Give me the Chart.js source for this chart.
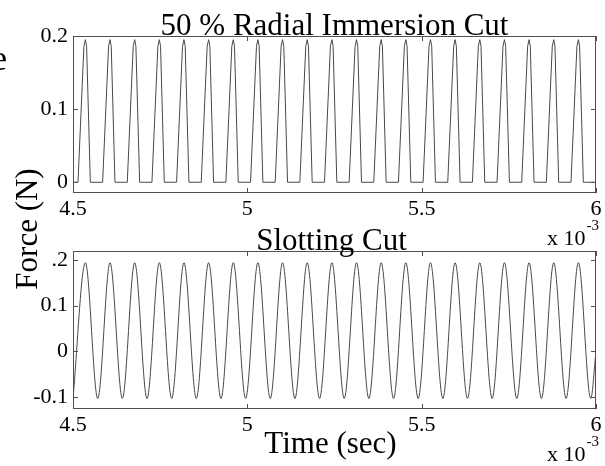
<!DOCTYPE html>
<html>
<head>
<meta charset="utf-8">
<title>Cutting force</title>
<script src="https://cdn.jsdelivr.net/npm/chart.js@4"></script>
<style>
  html, body { margin: 0; padding: 0; background: #fff; }
  #wrap { position: relative; width: 605px; height: 466px; overflow: hidden; }
  #wrap canvas { position: absolute; left: 0; top: 0; }
</style>
</head>
<body>
<div id="wrap">
  <canvas id="radialChart" width="605" height="466"></canvas>
  <canvas id="slotChart" width="605" height="466"></canvas>
</div>
<script>
// Time is in milliseconds (the axis carries the "x 10^-3" sec multiplier), force in N.
const xTickValues = [4.5, 5, 5.5, 6];
const xTickLabels = ['4.5', '5', '5.5', '6'];

const radialTickValues = [0, 0.1, 0.2];
const radialTickLabels = ['0', '0.1', '0.2'];
const slotTickValues = [-0.1, 0, 0.1, 0.2];
const slotTickLabels = ['-0.1', '0', '0.1', '0.2'];

// 50 % radial immersion: one force pulse per tooth pass (start, rise, peak, fall, end)
const radialTime = [
  4.5000,
  4.5143, 4.5313, 4.5355, 4.5390, 4.5497,
  4.5850, 4.6020, 4.6062, 4.6097, 4.6204,
  4.6557, 4.6727, 4.6769, 4.6804, 4.6911,
  4.7264, 4.7434, 4.7476, 4.7511, 4.7618,
  4.7971, 4.8141, 4.8183, 4.8218, 4.8325,
  4.8678, 4.8848, 4.8890, 4.8925, 4.9032,
  4.9385, 4.9555, 4.9597, 4.9632, 4.9739,
  5.0092, 5.0262, 5.0304, 5.0339, 5.0446,
  5.0799, 5.0969, 5.1011, 5.1046, 5.1153,
  5.1506, 5.1676, 5.1718, 5.1753, 5.1860,
  5.2213, 5.2383, 5.2425, 5.2460, 5.2567,
  5.2920, 5.3090, 5.3132, 5.3167, 5.3274,
  5.3627, 5.3797, 5.3839, 5.3874, 5.3981,
  5.4334, 5.4504, 5.4546, 5.4581, 5.4688,
  5.5041, 5.5211, 5.5253, 5.5288, 5.5395,
  5.5748, 5.5918, 5.5960, 5.5995, 5.6102,
  5.6455, 5.6625, 5.6667, 5.6702, 5.6809,
  5.7162, 5.7332, 5.7374, 5.7409, 5.7516,
  5.7869, 5.8039, 5.8081, 5.8116, 5.8223,
  5.8576, 5.8746, 5.8788, 5.8823, 5.8930,
  5.9283, 5.9453, 5.9495, 5.9530, 5.9637,
  6.0000
];
const radialForce = [
  0,
  0, 0.186, 0.195, 0.186, 0,
  0, 0.186, 0.195, 0.186, 0,
  0, 0.186, 0.195, 0.186, 0,
  0, 0.186, 0.195, 0.186, 0,
  0, 0.186, 0.195, 0.186, 0,
  0, 0.186, 0.195, 0.186, 0,
  0, 0.186, 0.195, 0.186, 0,
  0, 0.186, 0.195, 0.186, 0,
  0, 0.186, 0.195, 0.186, 0,
  0, 0.186, 0.195, 0.186, 0,
  0, 0.186, 0.195, 0.186, 0,
  0, 0.186, 0.195, 0.186, 0,
  0, 0.186, 0.195, 0.186, 0,
  0, 0.186, 0.195, 0.186, 0,
  0, 0.186, 0.195, 0.186, 0,
  0, 0.186, 0.195, 0.186, 0,
  0, 0.186, 0.195, 0.186, 0,
  0, 0.186, 0.195, 0.186, 0,
  0, 0.186, 0.195, 0.186, 0,
  0, 0.186, 0.195, 0.186, 0,
  0, 0.186, 0.195, 0.186, 0,
  0
];

// Slotting: peaks and troughs of the oscillating force, smoothed by the line's monotone cubic
const slotTime = [
  4.5000,
  4.5355, 4.5709, 4.6062, 4.6416, 4.6769, 4.7123, 4.7476, 4.7830,
  4.8183, 4.8537, 4.8890, 4.9244, 4.9597, 4.9951, 5.0304, 5.0658,
  5.1011, 5.1365, 5.1718, 5.2072, 5.2425, 5.2779, 5.3132, 5.3486,
  5.3839, 5.4193, 5.4546, 5.4900, 5.5253, 5.5607, 5.5960, 5.6314,
  5.6667, 5.7021, 5.7374, 5.7728, 5.8081, 5.8435, 5.8788, 5.9142,
  5.9495, 5.9849,
  6.0000
];
const slotForce = [
  -0.103,
  0.194, -0.103, 0.194, -0.103, 0.194, -0.103, 0.194, -0.103,
  0.194, -0.103, 0.194, -0.103, 0.194, -0.103, 0.194, -0.103,
  0.194, -0.103, 0.194, -0.103, 0.194, -0.103, 0.194, -0.103,
  0.194, -0.103, 0.194, -0.103, 0.194, -0.103, 0.194, -0.103,
  0.194, -0.103, 0.194, -0.103, 0.194, -0.103, 0.194, -0.103,
  0.194, -0.103,
  0.000
];

const SERIF = "'Liberation Serif', 'Times New Roman', serif";
const LINE_COLOR = '#484848';
const FRAME_COLOR = '#505050';

// Box, inward tick marks, subplot title, exponent note and shared labels
const framePlugin = {
  id: 'frameBox',
  afterDraw(chart, args, opts) {
    const { ctx, chartArea: a, scales: { x, y } } = chart;
    ctx.save();
    ctx.strokeStyle = FRAME_COLOR;
    ctx.lineWidth = 1;
    ctx.strokeRect(a.left + 0.5, a.top + 0.5, a.right - a.left - 1, a.bottom - a.top - 1);

    ctx.beginPath();
    x.ticks.forEach(t => {
      const px = Math.round(x.getPixelForValue(t.value)) + 0.5;
      ctx.moveTo(px, a.bottom); ctx.lineTo(px, a.bottom - 5);
      ctx.moveTo(px, a.top); ctx.lineTo(px, a.top + 5);
    });
    y.ticks.forEach(t => {
      const py = Math.round(y.getPixelForValue(t.value)) + 0.5;
      ctx.moveTo(a.left, py); ctx.lineTo(a.left + 5, py);
      ctx.moveTo(a.right, py); ctx.lineTo(a.right - 5, py);
    });
    ctx.stroke();

    ctx.fillStyle = '#000';
    ctx.textBaseline = 'alphabetic';

    // subplot title, sitting on the top edge of the box
    ctx.font = '31px ' + SERIF;
    ctx.textAlign = 'center';
    ctx.fillText(opts.title, (a.left + a.right) / 2 + opts.titleShift, a.top - 1);

    // x 10^-3 multiplier under the right end of the axis
    ctx.textAlign = 'left';
    ctx.font = '22px ' + SERIF;
    const ex = a.right - 49;
    const base = 'x 10';
    ctx.fillText(base, ex, a.bottom + 52);
    const w = ctx.measureText(base).width;
    ctx.font = '15px ' + SERIF;
    ctx.fillText('-3', ex + w + 1, a.bottom + 37);

    if (opts.shared) {
      // x label
      ctx.font = '31px ' + SERIF;
      ctx.textAlign = 'center';
      ctx.fillText('Time (sec)', (a.left + a.right) / 2 - 4, 453);

      // y label shared by both plots, on a white box
      ctx.save();
      ctx.fillStyle = '#fff';
      ctx.fillRect(12, 166, 39, 127);
      ctx.restore();
      ctx.save();
      ctx.translate(37, 229);
      ctx.rotate(-Math.PI / 2);
      ctx.font = '31px ' + SERIF;
      ctx.textAlign = 'center';
      ctx.fillText('Force (N)', 0, 0);
      ctx.restore();

      ctx.font = '35px ' + SERIF;
      ctx.textAlign = 'right';
      ctx.fillText('e', 7, 70);
    }
    ctx.restore();
  }
};

function makeChart(id, time, force, yMin, yMax, tickValues, tickLabels, padTop, padBottom, mode, plugOpts) {
  const points = time.map((t, i) => ({ x: t, y: force[i] }));
  return new Chart(document.getElementById(id), {
    type: 'line',
    data: {
      datasets: [{
        data: points,
        borderColor: LINE_COLOR,
        borderWidth: 1,
        pointRadius: 0,
        fill: false,
        tension: 0,
        cubicInterpolationMode: mode
      }]
    },
    options: {
      responsive: false,
      animation: false,
      devicePixelRatio: 1,
      events: [],
      layout: { padding: { left: 0, right: 9, top: padTop, bottom: padBottom } },
      plugins: {
        legend: { display: false },
        tooltip: { enabled: false },
        title: { display: false },
        frameBox: plugOpts
      },
      scales: {
        x: {
          type: 'linear',
          min: 4.5,
          max: 6,
          afterBuildTicks: s => { s.ticks = xTickValues.map(v => ({ value: v })); },
          afterFit: s => { s.height = 30; },
          grid: { display: false, drawTicks: false },
          border: { display: false },
          ticks: {
            padding: 3,
            color: '#000',
            font: { family: SERIF, size: 22 },
            maxRotation: 0,
            autoSkip: false,
            callback: v => xTickLabels[xTickValues.indexOf(v)]
          }
        },
        y: {
          type: 'linear',
          min: yMin,
          max: yMax,
          afterBuildTicks: s => { s.ticks = tickValues.map(v => ({ value: v })); },
          afterFit: s => { s.width = 73; },
          grid: { display: false, drawTicks: false },
          border: { display: false },
          ticks: {
            padding: 5,
            color: '#000',
            font: { family: SERIF, size: 22 },
            autoSkip: false,
            callback: v => tickLabels[tickValues.indexOf(v)]
          }
        }
      }
    },
    plugins: [framePlugin]
  });
}

makeChart('radialChart', radialTime, radialForce, -0.0147, 0.2,
  radialTickValues, radialTickLabels, 36, 466 - 193 - 30, 'default',
  { title: '50 % Radial Immersion Cut', titleShift: 0, shared: false });

makeChart('slotChart', slotTime, slotForce, -0.126, 0.2196,
  slotTickValues, slotTickLabels, 251, 466 - 409 - 30, 'monotone',
  { title: 'Slotting Cut', titleShift: -3, shared: true });
</script>
</body>
</html>
